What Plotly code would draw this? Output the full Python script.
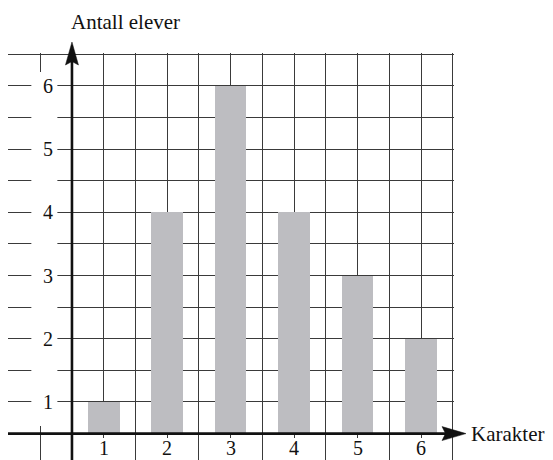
import plotly.graph_objects as go

# ---- data ----
grades = [1, 2, 3, 4, 5, 6]
students = [1, 4, 6, 4, 3, 2]
y_tick_vals = [1, 2, 3, 4, 5, 6]
y_tick_text = ["1", "2", "3", "4", "5", "6"]
x_tick_vals = [1, 2, 3, 4, 5, 6]
x_tick_text = ["1", "2", "3", "4", "5", "6"]
x_title = "Karakter"
y_title = "Antall elever"

# drawn origin of the hand-made axes (the original drawing crosses at 0.5)
AXIS = 0.5
X_RANGE = [-0.508, 6.52]
Y_RANGE = [0.082, 6.522]
FONT = "Liberation Serif"
GRID = "#3a3a3a"
BAR = "#bdbdc1"
TXT = "#111"

fig = go.Figure()
fig.add_trace(go.Bar(
    x=grades,
    y=[v - AXIS for v in students],
    base=AXIS,
    width=0.5,
    marker=dict(color=BAR, line=dict(width=0)),
    hovertext=[str(v) for v in students],
    hoverinfo="text",
))

# paper fractions of the drawn axes
fx = (AXIS - X_RANGE[0]) / (X_RANGE[1] - X_RANGE[0])
fy = (AXIS - Y_RANGE[0]) / (Y_RANGE[1] - Y_RANGE[0])

shapes = []
# white column behind the y tick labels
shapes.append(dict(type="rect", xref="x", yref="y", x0=-0.14, x1=0.27, y0=0.62, y1=6.22,
                   fillcolor="white", line=dict(width=0), layer="between"))
# white areas behind the x tick labels (grid hidden below short ticks)
for xv in x_tick_vals:
    shapes.append(dict(type="rect", xref="x", yref="y", x0=xv - 0.12, x1=xv + 0.12, y0=0.0, y1=0.43,
                       fillcolor="white", line=dict(width=0), layer="between"))

# y axis line + stealth arrow head (pixel offsets from the axis foot)
common = dict(xref="paper", yref="paper", xsizemode="pixel", ysizemode="pixel", layer="above")
shapes.append(dict(type="path", xanchor=fx, yanchor=0, path="M0,0 L0,400",
                   line=dict(color=TXT, width=2.6), **common))
shapes.append(dict(type="path", xanchor=fx, yanchor=0, path="M0,418 L6.5,395 L0,398.5 L-6.5,395 Z",
                   fillcolor=TXT, line=dict(color=TXT, width=0.5), **common))
# x axis line + arrow head
shapes.append(dict(type="path", xanchor=0, yanchor=fy, path="M0,0 L440,0",
                   line=dict(color=TXT, width=2.6), **common))
shapes.append(dict(type="path", xanchor=0, yanchor=fy, path="M458,0 L434,7 L437.5,0 L434,-7 Z",
                   fillcolor=TXT, line=dict(color=TXT, width=0.5), **common))

annotations = []
for v, t in zip(y_tick_vals, y_tick_text):
    annotations.append(dict(x=0.13, y=v, xref="x", yref="y", text=t, showarrow=False,
                            font=dict(family=FONT, size=20, color=TXT)))
for v, t in zip(x_tick_vals, x_tick_text):
    annotations.append(dict(x=v, y=0.27, xref="x", yref="y", text=t, showarrow=False,
                            font=dict(family=FONT, size=20, color=TXT)))
annotations.append(dict(x=1.35, y=1.076, xref="x", yref="paper", text=y_title, showarrow=False,
                        yanchor="middle", font=dict(family=FONT, size=21, color=TXT)))
annotations.append(dict(x=1.034, y=AXIS, xref="paper", yref="y", text=x_title, showarrow=False,
                        xanchor="left", yanchor="middle", font=dict(family=FONT, size=21, color=TXT)))

fig.update_layout(
    width=545, height=452,
    margin=dict(l=0, r=99, t=45, b=0),
    paper_bgcolor="white", plot_bgcolor="white",
    showlegend=False,
    shapes=shapes,
    annotations=annotations,
    bargap=0,
)
fig.update_xaxes(range=X_RANGE, tick0=-0.5, dtick=0.5, showgrid=True, gridcolor=GRID,
                 gridwidth=1, zeroline=False, showticklabels=False, ticks="", showline=False,
                 fixedrange=True)
fig.update_yaxes(range=Y_RANGE, tick0=0.5, dtick=0.5, showgrid=True, gridcolor=GRID,
                 gridwidth=1, zeroline=False, showticklabels=False, ticks="", showline=False,
                 fixedrange=True)

fig.write_html("out.html")
